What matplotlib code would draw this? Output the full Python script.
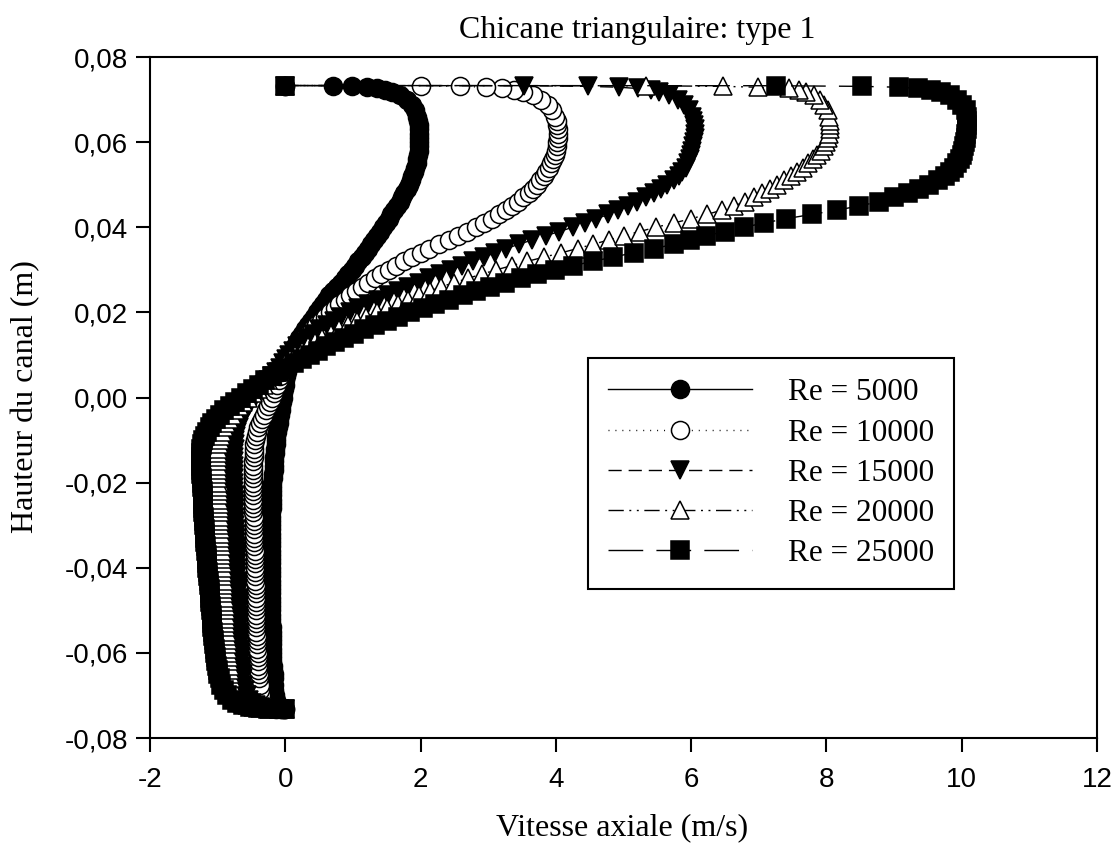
import matplotlib
matplotlib.use('Agg')
import matplotlib.pyplot as plt
from matplotlib.font_manager import FontProperties

# channel height (m), shared mesh for every Reynolds number
y_pos = [
    -0.0733, -0.07325, -0.0731, -0.0729, -0.0726, -0.0722, -0.0717, -0.0710, -0.0700, -0.0688, -0.0675,
    -0.066, -0.065, -0.064, -0.063, -0.062, -0.061, -0.060, -0.059, -0.058, -0.057,
    -0.056, -0.055, -0.054, -0.053, -0.052, -0.051, -0.050, -0.049, -0.048, -0.047,
    -0.046, -0.045, -0.044, -0.043, -0.042, -0.041, -0.040, -0.039, -0.038, -0.037,
    -0.036, -0.035, -0.034, -0.033, -0.032, -0.031, -0.030, -0.029, -0.028, -0.027,
    -0.026, -0.025, -0.024, -0.023, -0.022, -0.021, -0.020, -0.019, -0.018, -0.017,
    -0.016, -0.015, -0.014, -0.013, -0.012, -0.011,
    -0.010, -0.009, -0.008, -0.007, -0.006, -0.005, -0.004, -0.003, -0.002, -0.001,
    0.000, 0.001, 0.002, 0.003, 0.004, 0.005, 0.006, 0.007, 0.008, 0.009,
    0.010, 0.011, 0.012, 0.013, 0.014, 0.015, 0.016, 0.017, 0.018, 0.019,
    0.020, 0.021, 0.022, 0.023, 0.024, 0.025, 0.026, 0.027, 0.028, 0.029,
    0.030, 0.031, 0.032, 0.033, 0.034, 0.035, 0.036, 0.037, 0.038, 0.039,
    0.040, 0.041, 0.042, 0.043, 0.044, 0.045, 0.046, 0.047, 0.048, 0.049,
    0.050,
    0.051, 0.052, 0.053, 0.054, 0.055, 0.056, 0.057, 0.058, 0.059, 0.060,
    0.061, 0.062, 0.063, 0.064, 0.065, 0.066,
    0.0675, 0.0688, 0.0700, 0.0710, 0.0717, 0.0722, 0.0726, 0.0729, 0.0731, 0.07325, 0.0733]

# axial velocity (m/s)
u_5000 = [
    0.00, -0.02, -0.05, -0.08, -0.10, -0.12, -0.13, -0.14, -0.15, -0.16, -0.17,
    -0.17, -0.17, -0.18, -0.18, -0.19, -0.19, -0.19, -0.20, -0.20, -0.20,
    -0.20, -0.20, -0.20, -0.21, -0.21, -0.21, -0.21, -0.21, -0.21, -0.21,
    -0.21, -0.21, -0.21, -0.21, -0.21, -0.21, -0.21, -0.21, -0.21, -0.21,
    -0.21, -0.21, -0.21, -0.21, -0.21, -0.21, -0.21, -0.21, -0.21, -0.21,
    -0.20, -0.20, -0.20, -0.20, -0.20, -0.19, -0.19, -0.18, -0.18, -0.17,
    -0.17, -0.16, -0.16, -0.15, -0.15, -0.14,
    -0.14, -0.13, -0.12, -0.11, -0.10, -0.09, -0.08, -0.07, -0.06, -0.05,
    -0.04, -0.03, -0.02, -0.01, 0.00, 0.01, 0.02, 0.035, 0.05, 0.07,
    0.09, 0.12, 0.15, 0.18, 0.21, 0.25, 0.29, 0.33, 0.38, 0.42,
    0.47, 0.51, 0.56, 0.60, 0.65, 0.70, 0.76, 0.82, 0.88, 0.93,
    0.98, 1.03, 1.08, 1.13, 1.18, 1.22, 1.27, 1.31, 1.36, 1.40,
    1.45, 1.49, 1.53, 1.56, 1.60, 1.65, 1.69, 1.73, 1.76, 1.80,
    1.83,
    1.86, 1.88, 1.90, 1.92, 1.94, 1.95, 1.96, 1.97, 1.98, 1.98,
    1.98, 1.98, 1.98, 1.97, 1.96, 1.95,
    1.92, 1.87, 1.80, 1.70, 1.58, 1.48, 1.36, 1.21, 0.99, 0.70, 0.00]
u_10000 = [
    0.00, -0.06, -0.13, -0.19, -0.24, -0.28, -0.31, -0.34, -0.36, -0.37, -0.38,
    -0.39, -0.39, -0.40, -0.40, -0.41, -0.41, -0.41, -0.42, -0.42, -0.42,
    -0.42, -0.43, -0.43, -0.43, -0.43, -0.43, -0.43, -0.44, -0.44, -0.44,
    -0.44, -0.44, -0.44, -0.45, -0.45, -0.45, -0.45, -0.45, -0.45, -0.45,
    -0.45, -0.46, -0.46, -0.46, -0.46, -0.46, -0.46, -0.46, -0.46, -0.47,
    -0.47, -0.47, -0.47, -0.47, -0.47, -0.47, -0.47, -0.47, -0.47, -0.47,
    -0.47, -0.47, -0.46, -0.46, -0.46, -0.46,
    -0.45, -0.44, -0.42, -0.40, -0.38, -0.35, -0.32, -0.29, -0.25, -0.22,
    -0.20, -0.17, -0.15, -0.12, -0.10, -0.08, -0.06, -0.04, -0.01, 0.02,
    0.06, 0.11, 0.16, 0.22, 0.28, 0.34, 0.40, 0.46, 0.53, 0.59,
    0.66, 0.73, 0.80, 0.88, 0.96, 1.04, 1.13, 1.22, 1.32, 1.42,
    1.53, 1.64, 1.76, 1.88, 2.00, 2.13, 2.27, 2.42, 2.56, 2.69,
    2.82, 2.94, 3.05, 3.16, 3.26, 3.35, 3.44, 3.52, 3.60, 3.66,
    3.72,
    3.77, 3.82, 3.86, 3.90, 3.93, 3.96, 3.98, 4.00, 4.01, 4.02,
    4.03, 4.03, 4.03, 4.02, 4.01, 3.99,
    3.95, 3.88, 3.78, 3.66, 3.52, 3.38, 3.21, 2.96, 2.59, 2.00, 0.00]
u_15000 = [
    0.00, -0.08, -0.19, -0.29, -0.37, -0.44, -0.49, -0.53, -0.57, -0.60, -0.62,
    -0.63, -0.63, -0.64, -0.64, -0.65, -0.65, -0.66, -0.66, -0.67, -0.67,
    -0.67, -0.67, -0.68, -0.68, -0.68, -0.68, -0.69, -0.69, -0.69, -0.69,
    -0.70, -0.70, -0.70, -0.70, -0.71, -0.71, -0.71, -0.71, -0.72, -0.72,
    -0.72, -0.72, -0.73, -0.73, -0.73, -0.73, -0.74, -0.74, -0.74, -0.74,
    -0.75, -0.75, -0.75, -0.75, -0.76, -0.76, -0.76, -0.76, -0.76, -0.76,
    -0.76, -0.76, -0.76, -0.76, -0.75, -0.75,
    -0.74, -0.73, -0.71, -0.69, -0.67, -0.64, -0.61, -0.58, -0.54, -0.50,
    -0.45, -0.41, -0.36, -0.31, -0.25, -0.19, -0.13, -0.08, -0.04, 0.01,
    0.06, 0.12, 0.18, 0.25, 0.32, 0.41, 0.50, 0.61, 0.72, 0.83,
    0.95, 1.08, 1.22, 1.37, 1.52, 1.67, 1.82, 1.97, 2.12, 2.28,
    2.45, 2.61, 2.78, 2.94, 3.10, 3.27, 3.45, 3.65, 3.85, 4.05,
    4.25, 4.43, 4.60, 4.77, 4.92, 5.06, 5.20, 5.33, 5.45, 5.55,
    5.65,
    5.74, 5.82, 5.87, 5.92, 5.95, 5.98, 6.00, 6.02, 6.03, 6.04,
    6.05, 6.05, 6.05, 6.04, 6.03, 6.01,
    5.97, 5.90, 5.80, 5.68, 5.53, 5.40, 5.21, 4.93, 4.47, 3.53, 0.00]
u_20000 = [
    0.00, -0.10, -0.24, -0.37, -0.48, -0.57, -0.64, -0.70, -0.74, -0.77, -0.79,
    -0.80, -0.81, -0.82, -0.82, -0.83, -0.83, -0.84, -0.84, -0.85, -0.85,
    -0.86, -0.86, -0.87, -0.87, -0.88, -0.88, -0.88, -0.88, -0.89, -0.89,
    -0.90, -0.90, -0.91, -0.91, -0.92, -0.92, -0.92, -0.92, -0.93, -0.93,
    -0.94, -0.94, -0.95, -0.95, -0.95, -0.95, -0.96, -0.96, -0.97, -0.97,
    -0.97, -0.97, -0.98, -0.98, -0.98, -0.98, -0.99, -0.99, -0.99, -0.99,
    -1.00, -1.00, -1.00, -1.00, -0.99, -0.98,
    -0.97, -0.95, -0.93, -0.90, -0.87, -0.83, -0.79, -0.74, -0.68, -0.62,
    -0.55, -0.48, -0.40, -0.32, -0.25, -0.18, -0.12, -0.06, 0.00, 0.07,
    0.15, 0.24, 0.33, 0.44, 0.55, 0.67, 0.80, 0.93, 1.06, 1.20,
    1.35, 1.50, 1.66, 1.82, 1.98, 2.14, 2.30, 2.50, 2.70, 2.91,
    3.12, 3.35, 3.58, 3.83, 4.08, 4.32, 4.55, 4.78, 5.00, 5.24,
    5.48, 5.74, 6.00, 6.23, 6.45, 6.63, 6.80, 6.93, 7.05, 7.16,
    7.27,
    7.38, 7.48, 7.57, 7.65, 7.73, 7.80, 7.86, 7.92, 7.96, 8.00,
    8.02, 8.04, 8.05, 8.05, 8.05, 8.04,
    8.02, 7.97, 7.90, 7.82, 7.70, 7.59, 7.44, 6.99, 6.47, 5.33, 0.00]
u_25000 = [
    0.00, -0.10, -0.25, -0.40, -0.52, -0.62, -0.71, -0.79, -0.86, -0.91, -0.95,
    -0.97, -0.99, -1.00, -1.01, -1.02, -1.03, -1.04, -1.04, -1.05, -1.06,
    -1.07, -1.07, -1.08, -1.08, -1.09, -1.09, -1.10, -1.10, -1.11, -1.11,
    -1.12, -1.12, -1.13, -1.13, -1.14, -1.14, -1.15, -1.15, -1.16, -1.16,
    -1.17, -1.17, -1.18, -1.18, -1.19, -1.19, -1.20, -1.20, -1.20, -1.21,
    -1.21, -1.21, -1.22, -1.22, -1.22, -1.23, -1.23, -1.23, -1.24, -1.24,
    -1.25, -1.25, -1.25, -1.25, -1.24, -1.23,
    -1.21, -1.19, -1.16, -1.12, -1.08, -1.03, -0.97, -0.90, -0.82, -0.74,
    -0.65, -0.57, -0.48, -0.39, -0.30, -0.20, -0.10, 0.01, 0.13, 0.24,
    0.36, 0.48, 0.60, 0.73, 0.87, 1.02, 1.17, 1.33, 1.50, 1.67,
    1.85, 2.03, 2.22, 2.42, 2.62, 2.82, 3.02, 3.25, 3.48, 3.72,
    3.98, 4.26, 4.55, 4.85, 5.15, 5.45, 5.75, 5.99, 6.22, 6.50,
    6.78, 7.08, 7.40, 7.78, 8.15, 8.48, 8.78, 9.00, 9.20, 9.37,
    9.52,
    9.65, 9.75, 9.82, 9.88, 9.93, 9.97, 10.00, 10.02, 10.04, 10.05,
    10.06, 10.07, 10.08, 10.08, 10.08, 10.08,
    10.06, 10.01, 9.93, 9.82, 9.70, 9.55, 9.36, 9.07, 8.52, 7.26, 0.00]

labels = ['Re = 5000', 'Re = 10000', 'Re = 15000', 'Re = 20000', 'Re = 25000']
x_ticks = [-2, 0, 2, 4, 6, 8, 10, 12]
x_tick_labels = ['-2', '0', '2', '4', '6', '8', '10', '12']
y_ticks = [-0.08, -0.06, -0.04, -0.02, 0.0, 0.02, 0.04, 0.06, 0.08]
y_tick_labels = ['-0,08', '-0,06', '-0,04', '-0,02', '0,00', '0,02', '0,04', '0,06', '0,08']

serif = 'Liberation Serif'
sans = 'Liberation Sans'

fig = plt.figure(figsize=(11.11, 8.47), dpi=100)
ax = fig.add_axes([150 / 1111, 1 - 738 / 847, 947 / 1111, 681 / 847])

styles = [
    ('o', 'black', '-'),
    ('o', 'white', (0, (0.7, 4.3))),
    ('v', 'black', (0, (9.5, 5))),
    ('^', 'white', (0, (11, 4, 1.4, 4, 1.4, 4))),
    ('s', 'black', (0, (25, 9.5))),
]
speeds = [u_5000, u_10000, u_15000, u_20000, u_25000]

handles = []
for u, (marker, face, dash) in zip(speeds, styles):
    line, = ax.plot(u, y_pos, color='black', linewidth=1.0, linestyle=dash,
                    marker=marker, markersize=13, markerfacecolor=face,
                    markeredgecolor='black', markeredgewidth=1.1)
    handles.append(line)

ax.set_xlim(-2, 12)
ax.set_ylim(-0.08, 0.08)
ax.set_xticks(x_ticks)
ax.set_xticklabels(x_tick_labels, fontfamily=sans, fontsize=20)
ax.set_yticks(y_ticks)
ax.set_yticklabels(y_tick_labels, fontfamily=sans, fontsize=20)
ax.tick_params(axis='x', direction='out', length=10, width=1.5, pad=11)
ax.tick_params(axis='y', direction='out', length=10, width=1.5, pad=6)
for sp in ax.spines.values():
    sp.set_linewidth(1.5)

leg = ax.legend(handles, labels, loc='upper left', bbox_to_anchor=(0.462, 0.558),
                borderaxespad=0, fancybox=False, edgecolor='black', framealpha=1,
                prop=FontProperties(family=serif, size=22.5), handlelength=4.6,
                handletextpad=1.15, borderpad=0.65, labelspacing=0.36, numpoints=1)
leg.get_frame().set_linewidth(1.5)

fig.text(637 / 1111, 1 - 38 / 847, 'Chicane triangulaire: type 1', ha='center',
         va='baseline', fontfamily=serif, fontsize=23)
fig.text(622 / 1111, 1 - 835 / 847, 'Vitesse axiale (m/s)', ha='center',
         va='baseline', fontfamily=serif, fontsize=23)
fig.text(26 / 1111, 1 - 397 / 847, 'Hauteur du canal (m)', ha='center',
         va='center', rotation=90, fontfamily=serif, fontsize=23)

fig.savefig('out.png', dpi=100)
